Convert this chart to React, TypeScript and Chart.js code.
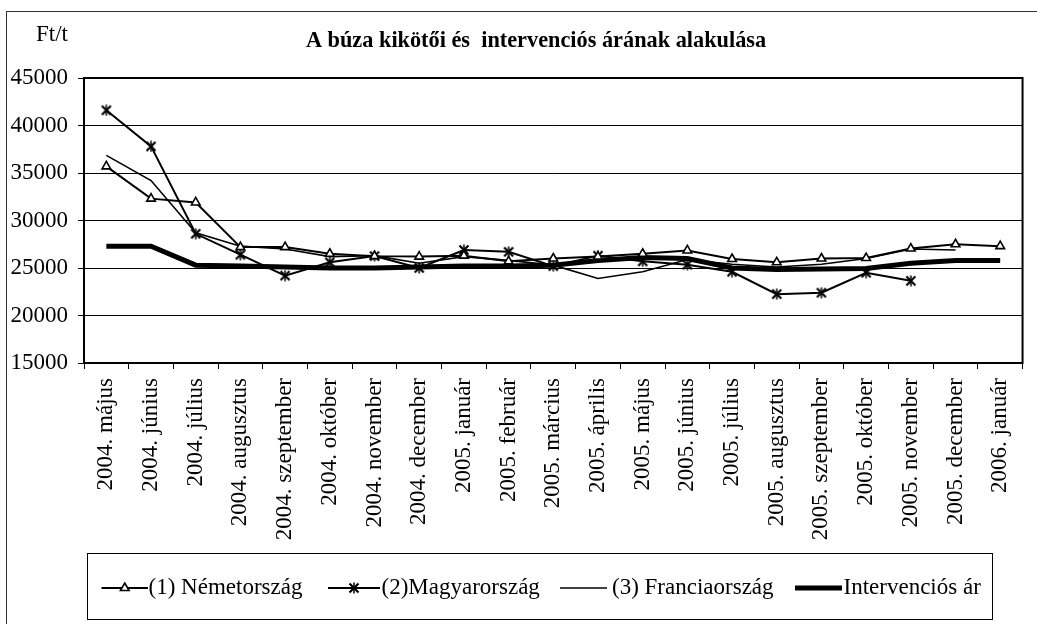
import React, { useEffect, useRef } from "react";
import { Chart, registerables } from "chart.js";

Chart.register(...registerables);

const W = 1037;
const H = 624;
const FONT = "'Liberation Serif', 'Times New Roman', serif";

const chartTitle = "A búza kikötői és  intervenciós árának alakulása";
const unitLabel = "Ft/t";

const categories = [
  "2004. május", "2004. június", "2004. július", "2004. augusztus", "2004. szeptember",
  "2004. október", "2004. november", "2004. december", "2005. január", "2005. február",
  "2005. március", "2005. április", "2005. május", "2005. június", "2005. július",
  "2005. augusztus", "2005. szeptember", "2005. október", "2005. november", "2005. december",
  "2006. január",
];

const nemetorszag = [
  35700, 32300, 31900, 27200, 27200, 26500, 26250, 26200, 26300, 25700,
  26000, 26200, 26500, 26850, 25950, 25600, 26000, 26050, 27050, 27500, 27300,
];
const magyarorszag = [
  41600, 37800, 28600, 26400, 24200, 25600, 26250, 25000, 26900, 26700,
  25200, 26300, 25700, 25350, 24600, 22250, 22400, 24500, 23650, null, null,
];
const franciaorszag = [
  36850, 34200, 28700, 27300, 27000, 26200, 26300, 25500, 26200, 25800,
  25300, 23900, 24600, 25900, 25400, 25100, 25400, 26000, 27000, 26900, null,
];
const intervencios = [
  27300, 27300, 25300, 25200, 25100, 25000, 25000, 25100, 25200, 25200,
  25300, 25800, 26100, 26000, 25000, 24850, 24900, 24950, 25500, 25800, 25800,
];

const seriesNames = ["(1) Németország", "(2)Magyarország", "(3) Franciaország", "Intervenciós ár"];
const yMin = 15000;
const yMax = 45000;
const yStep = 5000;

function makeStar(): HTMLCanvasElement {
  const c = document.createElement("canvas");
  c.width = 12;
  c.height = 12;
  const ctx = c.getContext("2d")!;
  ctx.strokeStyle = "#000";
  ctx.lineCap = "butt";
  ctx.lineWidth = 2.2;
  ctx.beginPath();
  ctx.moveTo(1.5, 1.5);
  ctx.lineTo(10.5, 10.5);
  ctx.moveTo(10.5, 1.5);
  ctx.lineTo(1.5, 10.5);
  ctx.stroke();
  ctx.lineWidth = 1.5;
  ctx.beginPath();
  ctx.moveTo(6, 0.5);
  ctx.lineTo(6, 11.5);
  ctx.stroke();
  return c;
}

export default function App() {
  const ref = useRef<HTMLCanvasElement | null>(null);

  useEffect(() => {
    if (!ref.current) return;
    const star = makeStar();

    const decor = {
      id: "decor",
      afterDraw(chart: any) {
        const ctx = chart.ctx as CanvasRenderingContext2D;
        const a = chart.chartArea;
        ctx.save();
        // outer frame
        ctx.strokeStyle = "#333";
        ctx.lineWidth = 1;
        ctx.strokeRect(6.5, 11.5, 1100, 1000);
        // plot border
        ctx.strokeStyle = "#000";
        ctx.lineWidth = 2;
        ctx.strokeRect(a.left, a.top, a.right - a.left, a.bottom - a.top);
        // title
        ctx.fillStyle = "#000";
        ctx.textBaseline = "middle";
        ctx.textAlign = "center";
        ctx.font = `bold 22.3px ${FONT}`;
        ctx.fillText(chartTitle, 536, 41);
        ctx.textAlign = "left";
        ctx.font = `23px ${FONT}`;
        ctx.fillText(unitLabel, 36, 35);

        // legend
        const lx1 = 87.5, ly1 = 553.5, lx2 = 992.5, ly2 = 619.5;
        ctx.lineWidth = 1;
        ctx.strokeStyle = "#000";
        ctx.strokeRect(lx1, ly1, lx2 - lx1, ly2 - ly1);
        const items = [
          { s: 101.5, e: 148, tx: 148.5 },
          { s: 328, e: 380, tx: 381.5 },
          { s: 560, e: 607, tx: 612 },
          { s: 795, e: 842, tx: 843.5 },
        ];
        const ly = 588;
        chart.data.datasets.forEach((ds: any, i: number) => {
          const it = items[i];
          ctx.strokeStyle = "#000";
          ctx.lineWidth = ds.borderWidth;
          ctx.beginPath();
          ctx.moveTo(it.s, ly);
          ctx.lineTo(it.e, ly);
          ctx.stroke();
          const cx = (it.s + it.e) / 2;
          if (i === 0) {
            const r = 5;
            ctx.fillStyle = "#fff";
            ctx.lineWidth = 1.6;
            ctx.beginPath();
            ctx.moveTo(cx, ly - r);
            ctx.lineTo(cx + r * 0.866, ly + r * 0.5);
            ctx.lineTo(cx - r * 0.866, ly + r * 0.5);
            ctx.closePath();
            ctx.fill();
            ctx.stroke();
          } else if (i === 1) {
            ctx.drawImage(star, cx - star.width / 2, ly - star.height / 2);
          }
          ctx.fillStyle = "#000";
          ctx.font = `23px ${FONT}`;
          ctx.textAlign = "left";
          ctx.textBaseline = "middle";
          ctx.fillText(ds.label, it.tx, ly);
        });
        ctx.restore();
      },
    };

    const chart = new Chart(ref.current, {
      type: "line",
      data: {
        labels: categories,
        datasets: [
          {
            label: seriesNames[0],
            data: nemetorszag,
            borderColor: "#000",
            borderWidth: 2,
            pointStyle: "triangle",
            pointRadius: 5,
            pointBorderWidth: 1.6,
            pointBackgroundColor: "#fff",
            pointBorderColor: "#000",
            tension: 0,
          },
          {
            label: seriesNames[1],
            data: magyarorszag,
            borderColor: "#000",
            borderWidth: 2,
            pointStyle: star as any,
            pointRadius: 6,
            tension: 0,
            spanGaps: false,
          },
          {
            label: seriesNames[2],
            data: franciaorszag,
            borderColor: "#000",
            borderWidth: 1.6,
            pointRadius: 0,
            tension: 0,
          },
          {
            label: seriesNames[3],
            data: intervencios,
            borderColor: "#000",
            borderWidth: 5,
            pointRadius: 0,
            tension: 0,
          },
        ],
      },
      options: {
        responsive: false,
        animation: false,
        layout: { padding: { top: 78, right: 3, left: 0, bottom: 0 } },
        plugins: {
          legend: { display: false },
          title: { display: false },
          tooltip: { enabled: false },
        },
        scales: {
          x: {
            offset: true,
            grid: { drawOnChartArea: false, drawTicks: true, tickLength: 6, offset: true, color: "#000", lineWidth: 1 },
            border: { display: true, color: "#000", width: 2 },
            ticks: {
              autoSkip: false,
              minRotation: 90,
              maxRotation: 90,
              padding: 9,
              color: "#000",
              font: { family: FONT, size: 23 },
            },
            afterFit: (s: any) => {
              s.height = H - 363;
            },
          },
          y: {
            min: yMin,
            max: yMax,
            grid: { color: "#000", lineWidth: 1, drawTicks: true, tickLength: 6 },
            border: { display: true, color: "#000", width: 2 },
            ticks: {
              stepSize: yStep,
              padding: 10,
              color: "#000",
              font: { family: FONT, size: 23 },
              callback: (v: any) => String(v),
            },
            afterFit: (s: any) => {
              s.width = 84;
            },
          },
        },
      },
      plugins: [decor],
    });
    return () => chart.destroy();
  }, []);

  return (
    <div
      style={{
        position: "fixed",
        left: 0,
        top: 0,
        width: W,
        height: H,
        overflow: "hidden",
        background: "#fff",
      }}
    >
      <canvas ref={ref} width={W} height={H} />
    </div>
  );
}
